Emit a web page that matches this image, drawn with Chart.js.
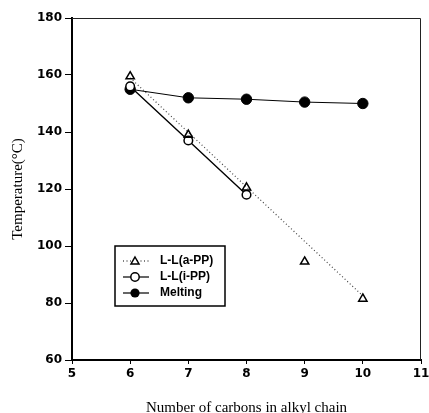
<!DOCTYPE html>
<html><head><meta charset="utf-8">
<script src="https://cdn.jsdelivr.net/npm/chart.js@4.4.1/dist/chart.umd.min.js"></script>
<style>html,body{margin:0;padding:0;background:#fff}#w{width:429px;height:413px}</style>
</head><body><div id="w"><canvas id="c" width="429" height="413"></canvas></div>
<script>
const carbons = [6, 7, 8, 9, 10];
const llaPP = [159.5, 139, 120.5, 94.5, 81.5];
const carbonsIPP = [6, 7, 8];
const lliPP = [156, 137, 118];
const melting = [155, 152, 151.5, 150.5, 150];
const fitX = [6, 10];
const fitY = [159, 82.5];
const xTicks = [5, 6, 7, 8, 9, 10, 11];
const yTicks = [60, 80, 100, 120, 140, 160, 180];
const labels = ['L-L(a-PP)', 'L-L(i-PP)', 'Melting'];

const pts = (xs, ys) => xs.map((x, i) => ({x, y: ys[i]}));
const TICKF = {family: "'DejaVu Sans'", size: 12, weight: 'bold'};

const frame = {
  id: 'frame',
  afterDatasetsDraw(chart) {
    const {ctx, chartArea: a} = chart;
    ctx.save();
    ctx.strokeStyle = '#222'; ctx.lineWidth = 1;
    ctx.beginPath();
    ctx.moveTo(a.left, a.top + 0.5); ctx.lineTo(a.right - 0.5, a.top + 0.5); ctx.lineTo(a.right - 0.5, a.bottom);
    ctx.stroke();
    // legend box
    const bx = 115, by = 246, bw = 110, bh = 60;
    ctx.fillStyle = '#fff'; ctx.fillRect(bx, by, bw, bh);
    ctx.strokeStyle = '#000'; ctx.lineWidth = 1.5; ctx.strokeRect(bx, by, bw, bh);
    const rows = [261, 277, 293];
    const sx = 135;
    ctx.font = "bold 12px 'Liberation Sans'";
    ctx.textBaseline = 'middle'; ctx.textAlign = 'left';
    rows.forEach((ry, i) => {
      ctx.strokeStyle = '#000';
      ctx.lineWidth = 1.2;
      if (i === 0) { ctx.setLineDash([1, 2.5]); } else { ctx.setLineDash([]); }
      ctx.beginPath(); ctx.moveTo(123, ry); ctx.lineTo(149, ry); ctx.stroke();
      ctx.setLineDash([]);
      ctx.lineWidth = 1.5;
      if (i === 0) {
        ctx.fillStyle = '#fff';
        ctx.beginPath(); ctx.moveTo(sx, ry - 4); ctx.lineTo(sx + 4, ry + 3); ctx.lineTo(sx - 4, ry + 3); ctx.closePath();
        ctx.fill(); ctx.stroke();
      } else if (i === 1) {
        ctx.fillStyle = '#fff';
        ctx.beginPath(); ctx.arc(sx, ry, 4.2, 0, Math.PI * 2); ctx.fill(); ctx.stroke();
      } else {
        ctx.fillStyle = '#000';
        ctx.beginPath(); ctx.arc(sx, ry, 4.6, 0, Math.PI * 2); ctx.fill();
      }
      ctx.fillStyle = '#000';
      ctx.fillText(labels[i], 160, ry);
    });
    ctx.restore();
  }
};

new Chart(document.getElementById('c'), {
  type: 'scatter',
  data: {
    datasets: [
      {label: 'fit', data: pts(fitX, fitY), showLine: true, borderColor: '#444', borderWidth: 1.2,
       borderDash: [1, 2.5], pointRadius: 0, order: 4},
      {label: labels[2], data: pts(carbons, melting), showLine: true, borderColor: '#000', borderWidth: 1,
       pointStyle: 'circle', pointRadius: 5.2, pointBackgroundColor: '#000', pointBorderColor: '#000', order: 3},
      {label: labels[1], data: pts(carbonsIPP, lliPP), showLine: true, borderColor: '#000', borderWidth: 1.4,
       pointStyle: 'circle', pointRadius: 4.3, pointBorderWidth: 1.5, pointBackgroundColor: '#fff', pointBorderColor: '#000', order: 2},
      {label: labels[0], data: pts(carbons, llaPP), showLine: false,
       pointStyle: 'triangle', pointRadius: 4.8, pointBorderWidth: 1.5, pointBackgroundColor: 'rgba(255,255,255,0)', pointBorderColor: '#000', order: 1}
    ]
  },
  options: {
    responsive: false, animation: false, devicePixelRatio: 1,
    layout: {padding: {left: 0, right: 8, top: 18, bottom: 0}},
    plugins: {legend: {display: false}, tooltip: {enabled: false}},
    scales: {
      x: {
        type: 'linear', min: 5, max: 11,
        afterBuildTicks: s => { s.ticks = xTicks.map(v => ({value: v})); },
        afterFit: s => { s.height = 53; s.paddingRight = 0; },
        grid: {drawOnChartArea: false, drawTicks: true, tickLength: 4, color: '#000', lineWidth: 1},
        border: {display: true, color: '#000', width: 2},
        ticks: {color: '#000', font: TICKF, padding: 3, maxRotation: 0},
        title: {display: true, text: 'Number of carbons in alkyl chain', color: '#000',
                font: {family: "'Liberation Serif'", size: 15}, padding: {top: 4, bottom: -4}}
      },
      y: {
        type: 'linear', min: 60, max: 180,
        afterBuildTicks: s => { s.ticks = yTicks.map(v => ({value: v})); },
        afterFit: s => { s.width = 72; },
        grid: {drawOnChartArea: false, drawTicks: true, tickLength: 7, color: '#000', lineWidth: 1},
        border: {display: true, color: '#000', width: 2},
        ticks: {color: '#000', font: TICKF, padding: 3},
        title: {display: true, text: 'Temperature(°C)', color: '#000',
                font: {family: "'Liberation Serif'", size: 15}, padding: {top: 9, bottom: 0}}
      }
    }
  },
  plugins: [frame]
});
</script>
</body></html>
